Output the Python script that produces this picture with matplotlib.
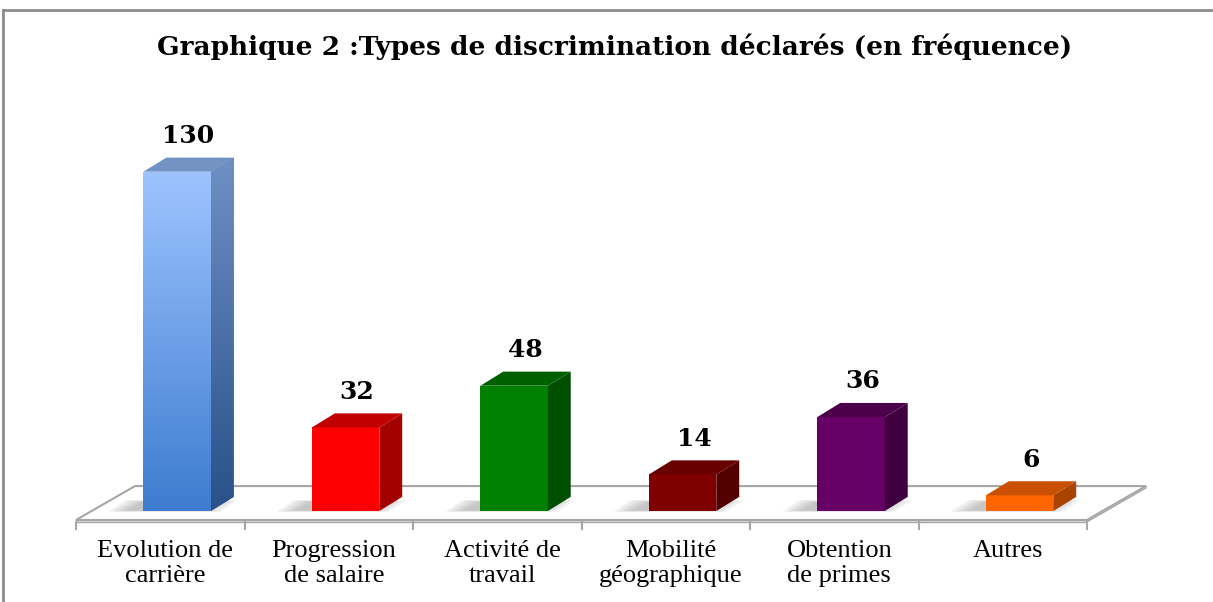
import matplotlib
matplotlib.use("Agg")
import matplotlib.pyplot as plt
import numpy as np
from matplotlib.colors import LinearSegmentedColormap
from matplotlib.patches import Polygon

# donnees du graphique
categories = [
    "Evolution de\ncarrière",
    "Progression\nde salaire",
    "Activité de\ntravail",
    "Mobilité\ngéographique",
    "Obtention\nde primes",
    "Autres",
]
values = [130, 32, 48, 14, 36, 6]
front_colors = ["#5C95E0", "#FF0000", "#008000", "#800000", "#660066", "#FF6600"]
side_colors = ["#3F6299", "#A30000", "#004F00", "#520000", "#400040", "#A84400"]
top_colors = ["#7393C4", "#C00000", "#006000", "#680000", "#4C004C", "#C85000"]
title = "Graphique 2 :Types de discrimination déclarés (en fréquence)"

# geometrie pseudo-3D (en unites de donnees)
BAR_W = 0.40
BAR_SHIFT = 0.10
DX, DY = 0.136, 5.4
FLOOR_FRONT = -3.45
FLOOR_DX, FLOOR_DY = 0.35, 13.0

fig = plt.figure(figsize=(12.13, 6.02), dpi=100)
ax = fig.add_axes([0, 0, 1, 1])
ax.axis("off")

n = len(categories)
xlim = (-0.5 - 76 / 168.5, -0.5 + (1213 - 76) / 168.5)
ylim = (-91 / 2.61, (602 - 91) / 2.61)

# sol
fl, fr = -0.5, n - 0.5
floor = Polygon(
    [(fl, FLOOR_FRONT), (fr, FLOOR_FRONT),
     (fr + FLOOR_DX, FLOOR_FRONT + FLOOR_DY), (fl + FLOOR_DX, FLOOR_FRONT + FLOOR_DY)],
    closed=True, facecolor="white", edgecolor="#A6A6A6", linewidth=1.5, zorder=1,
)
ax.add_patch(floor)
ax.add_patch(Polygon(
    [(fl, FLOOR_FRONT), (fr, FLOOR_FRONT), (fr, FLOOR_FRONT - 0.7), (fl, FLOOR_FRONT - 0.7)],
    closed=True, facecolor="#F2F2F2", edgecolor="#A6A6A6", linewidth=1.0, zorder=1,
))
ax.add_patch(Polygon(
    [(fr, FLOOR_FRONT), (fr + FLOOR_DX, FLOOR_FRONT + FLOOR_DY),
     (fr + FLOOR_DX, FLOOR_FRONT + FLOOR_DY - 0.7), (fr, FLOOR_FRONT - 0.7)],
    closed=True, facecolor="#E6E6E6", edgecolor="#A6A6A6", linewidth=1.0, zorder=1,
))
for k in range(n + 1):
    ax.plot([k - 0.5, k - 0.5], [FLOOR_FRONT - 0.7, FLOOR_FRONT - 3.6],
            color="#A6A6A6", linewidth=1.5, zorder=1)

for i, (v, fc, sc, tc) in enumerate(zip(values, front_colors, side_colors, top_colors)):
    x0 = i + BAR_SHIFT - BAR_W / 2
    x1 = x0 + BAR_W

    # ombre douce sur le sol, a gauche de la barre
    for s in range(6):
        grow = 0.022 * s
        ax.add_patch(Polygon(
            [(x0 - 0.10 - grow, 0.2 - grow * 5), (x1 - 0.05 + grow, 0.2 - grow * 5),
             (x1 + 0.05 + grow, 3.6 + grow * 5), (x0 + 0.0 - grow, 3.6 + grow * 5)],
            closed=True, facecolor="#808080", edgecolor="none", alpha=0.09, zorder=2,
        ))

    front = Polygon([(x0, 0), (x1, 0), (x1, v), (x0, v)], closed=True,
                    facecolor=fc, edgecolor="none", zorder=3)
    side = Polygon([(x1, 0), (x1 + DX, DY), (x1 + DX, v + DY), (x1, v)], closed=True,
                   facecolor=sc, edgecolor="none", zorder=3)
    top = Polygon([(x0, v), (x1, v), (x1 + DX, v + DY), (x0 + DX, v + DY)], closed=True,
                  facecolor=tc, edgecolor="none", zorder=3)
    ax.add_patch(front)
    ax.add_patch(side)
    ax.add_patch(top)

    if i == 0:
        # degrade de la premiere barre
        grad = np.linspace(1, 0, 256).reshape(-1, 1)
        cmap_f = LinearSegmentedColormap.from_list("f", ["#3D7CD0", "#9EC4FF"])
        cmap_s = LinearSegmentedColormap.from_list("s", ["#29508A", "#6E90C4"])
        im = ax.imshow(grad, cmap=cmap_f, extent=(x0, x1, 0, v), aspect="auto", zorder=3.5)
        im.set_clip_path(front)
        im2 = ax.imshow(grad, cmap=cmap_s, extent=(x1, x1 + DX, 0, v + DY), aspect="auto", zorder=3.5)
        im2.set_clip_path(side)

    ax.annotate(str(v), xy=(i + BAR_SHIFT + DX / 2, v + DY), xytext=(0, 7),
                textcoords="offset points", ha="center", va="bottom",
                fontsize=18, fontweight="bold", family="DejaVu Serif", zorder=5)

    ax.text(i + 0.03, -11.0, categories[i], ha="center", va="top",
            fontsize=19, family="Liberation Serif", linespacing=1.17, zorder=5)

ax.set_xlim(*xlim)
ax.set_ylim(*ylim)

fig.text(615 / 1213, 1 - 47 / 602, title, ha="center", va="center",
         fontsize=19, fontweight="bold", family="DejaVu Serif")

# cadre gris
fig.add_artist(plt.Line2D([3 / 1213, 1], [1 - 10 / 602, 1 - 10 / 602],
                          color="#8C8C8C", linewidth=2))
fig.add_artist(plt.Line2D([3 / 1213, 3 / 1213], [0, 1 - 10 / 602],
                          color="#8C8C8C", linewidth=2))

fig.savefig("out.png", dpi=100)
